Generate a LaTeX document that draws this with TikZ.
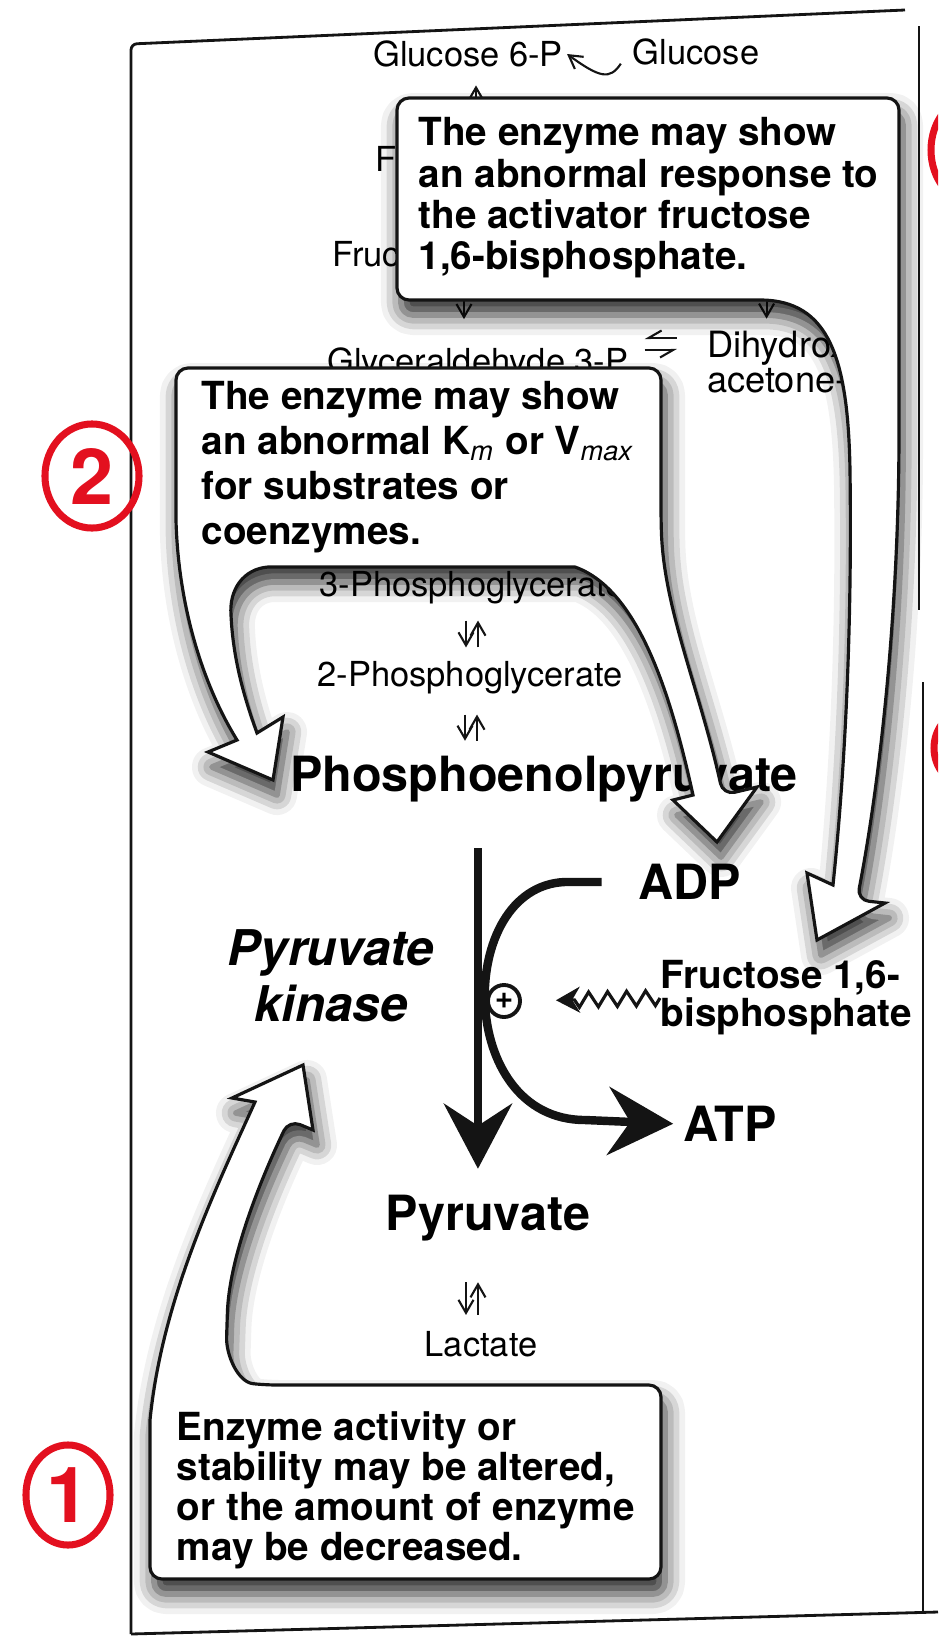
\documentclass[tikz,border=0pt]{standalone}
\usepackage{fontspec}
\setmainfont{TeX Gyre Heros}
\usetikzlibrary{arrows.meta, positioning, calc, shapes.geometric, shadows.blur, decorations.pathmorphing}
\definecolor{InkBlack}{HTML}{141414}
\definecolor{PenRed}{HTML}{E3101F}
\tikzset{
  metab/.style={inner sep=1pt, font=\fontsize{9.8}{10}\selectfont},
  bigmetab/.style={inner sep=1pt, font=\fontsize{13.8}{15}\selectfont\bfseries},
  notebox/.style={draw=InkBlack, line width=0.9pt, fill=white, rounded corners=0.12cm, blur shadow={shadow xshift=0.04cm, shadow yshift=-0.15cm, shadow blur radius=0.2cm, shadow opacity=85}},
  notetext/.style={anchor=north west, inner sep=0pt, align=left},
  revarrow/.style={-{Straight Barb[length=1.3mm, width=1.5mm]}, line width=0.6pt, draw=InkBlack},
  harparrow/.style={-{Straight Barb[harpoon, swap, length=1.3mm, width=1.5mm]}, line width=0.6pt, draw=InkBlack},
  mainarrow/.style={-{Stealth[length=6.5mm, width=6.8mm, inset=2.2mm]}, line width=2.4pt, draw=InkBlack},
  wavyarrow/.style={-{Stealth[length=2.4mm, width=2.6mm]}, line width=0.9pt, draw=InkBlack, decorate, decoration={zigzag, amplitude=0.075cm, segment length=0.19cm, post length=0.46cm}},
  penmark/.style={ellipse, draw=PenRed, line width=2pt, text=PenRed, inner sep=0pt, font=\fontsize{22}{22}\selectfont\bfseries},
  frameline/.style={draw=InkBlack, line width=0.8pt}
}

\begin{document}
\begin{tikzpicture}[x=0.01cm, y=-0.01cm]
\useasboundingbox (0,0) rectangle (938,1639);

\draw[frameline, rounded corners=0.06cm] (131,1634) -- (131,44) -- (905,10);
\draw[frameline] (919,26) -- (919,610);
\draw[frameline] (923,682) -- (923,1614);
\draw[frameline] (131,1634) -- (938,1612);

\node[metab] (glc6p) at (468,54) {Glucose 6-P};
\node[metab] (glc) at (696,52) {Glucose};
\node[metab, anchor=west] (fru6p) at (371,159) {F};
\node[metab, anchor=west] (fru16bp) at (328,254) {Fruc};
\node[metab] (gap) at (478,364) {Glyceraldehyde 3-P};
\node[metab, anchor=west, align=left, font=\fontsize{10.3}{10}\selectfont] (dhap) at (703,362) {Dihydroxy-\\acetone-P};
\node[metab] (pg3) at (472,588) {3-Phosphoglycerate};
\node[metab] (pg2) at (470,678) {2-Phosphoglycerate};
\node[bigmetab] (pep) at (544,779) {Phosphoenolpyruvate};
\node[bigmetab] (pyr) at (488,1218) {Pyruvate};
\node[metab] (lac) at (481,1344) {Lactate};
\node[bigmetab] (adp) at (690,882) {ADP};
\node[bigmetab] (atp) at (730,1124) {ATP};
\node[align=center, inner sep=1pt, font=\fontsize{14}{15.9}\selectfont\bfseries\itshape] (pk) at (331,976) {Pyruvate\\kinase};
\node[circle, draw=InkBlack, line width=1.1pt, minimum size=0.32cm, inner sep=0pt, font=\fontsize{9}{9}\selectfont\bfseries] (act) at (504,1001) {+};
\node[anchor=west, align=left, inner sep=0pt, font=\fontsize{11}{10.8}\selectfont\bfseries] (fbp) at (660,998) {Fructose 1,6-\\bisphosphate};

\draw[revarrow, shorten <=0.14cm] (glc.west) .. controls (610,80) and (600,78) .. (glc6p.east);
\draw[revarrow, shorten >=0.14cm] ([xshift=0.08cm]glc6p.south |- fru6p.north) -- ([xshift=0.08cm]glc6p.south);
\draw[revarrow, shorten <=0.06cm, shorten >=0.24cm] (fru16bp.east) -| ([xshift=-0.14cm]gap.north);
\draw[revarrow, shorten <=0.06cm, shorten >=0.08cm] (fru16bp.east) -| ([xshift=-0.26cm]dhap.north);
\draw[harparrow, shorten <=0.26cm, shorten >=0.12cm] ([yshift=0.26cm]gap.east -| dhap.west) -- ([yshift=0.26cm]gap.east);
\draw[harparrow, shorten <=0.12cm, shorten >=0.26cm] ([yshift=0.14cm]gap.east) -- ([yshift=0.14cm]gap.east -| dhap.west);
\draw[revarrow, shorten <=0.12cm, shorten >=0.1cm] ([xshift=-0.06cm]pg3.south) -- ([xshift=-0.06cm]pg3.south |- pg2.north);
\draw[revarrow, shorten <=0.1cm, shorten >=0.12cm] ([xshift=0.06cm]pg3.south |- pg2.north) -- ([xshift=0.06cm]pg3.south);
\draw[revarrow, shorten <=0.16cm, shorten >=0.11cm] ([xshift=-0.05cm]pg2.south) -- ([xshift=-0.05cm]pg2.south |- pep.north);
\draw[revarrow, shorten <=0.11cm, shorten >=0.16cm] ([xshift=0.07cm]pg2.south |- pep.north) -- ([xshift=0.07cm]pg2.south);
\draw[revarrow, shorten <=0.37cm, shorten >=0.12cm] ([xshift=-0.22cm]pyr.south) -- ([xshift=-0.22cm]pyr.south |- lac.north);
\draw[revarrow, shorten <=0.12cm, shorten >=0.37cm] ([xshift=-0.1cm]pyr.south |- lac.north) -- ([xshift=-0.1cm]pyr.south);

\draw[mainarrow, shorten <=0.42cm, shorten >=0.22cm] ([xshift=-0.66cm]pep.south) -- ([xshift=-0.66cm]pep.south |- pyr.north);
\draw[mainarrow, shorten <=0.33cm, shorten >=0.06cm] (adp.west) -- ++(-70,0) .. controls (455,887) and (455,1120) .. (585,1120) -- (atp.west);
\draw[wavyarrow, shorten >=0.34cm] (fbp.west) -- (act.east);

\draw[notebox] (397,200) -- (397,98) -- (899,98) -- (899,420)
  .. controls (899,600) and (882,770) .. (857,900) [sharp corners]
  -- (885,903) -- (817,940) -- (807,873) -- (833,885)
  .. controls (846,760) and (852,620) .. (850,470)
  .. controls (848,360) and (830,300) .. (760,300) [rounded corners=0.12cm] -- (397,300) -- cycle;
\node[notetext, font=\fontsize{11}{11.7}\selectfont\bfseries] (note3) at (418,117) {The enzyme may show\\an abnormal response to\\the activator fructose\\1,6-bisphosphate.};

\draw[notebox] (176,450) -- (176,368) -- (661,368) -- (661,520)
  .. controls (664,610) and (700,690) .. (723,795) [sharp corners]
  -- (757,787) -- (717,842) -- (673,800) -- (693,795)
  .. controls (672,700) and (640,590) .. (575,567) -- (268,567)
  .. controls (243,569) and (229,590) .. (231,615)
  .. controls (233,660) and (245,700) .. (257,733)
  -- (283,717) -- (273,780) -- (208,752) -- (237,740)
  .. controls (200,680) and (178,600) .. (176,520) -- cycle;
\node[notetext, font=\fontsize{11}{12.8}\selectfont\bfseries] (note2) at (201,381) {The enzyme may show\\an abnormal K\textsubscript{\mdseries\itshape m} or V\textsubscript{\mdseries\itshape max}\\for substrates or\\coenzymes.};

\draw[notebox] (150,1480) -- (150,1579) -- (661,1579) -- (661,1385) -- (265,1385)
  .. controls (238,1382) and (226,1355) .. (227,1325)
  .. controls (229,1260) and (258,1185) .. (289,1120) [sharp corners]
  -- (313,1130) -- (303,1065) -- (232,1098) -- (255,1102)
  .. controls (215,1190) and (162,1300) .. (150,1420) -- cycle;
\node[notetext, font=\fontsize{11}{11.4}\selectfont\bfseries] (note1) at (176,1411) {Enzyme activity or\\stability may be altered,\\or the amount of enzyme\\may be decreased.};

\node[penmark, minimum width=0.94cm, minimum height=1.04cm] (mark2) at (92,476) {2};
\node[penmark, minimum width=0.84cm, minimum height=1.0cm] (mark1) at (68,1495) {1};
\begin{scope}
\clip (0,0) rectangle (938,1639);
\draw[draw=PenRed, line width=2pt] (972,150) ellipse [x radius=41, y radius=52];
\draw[draw=PenRed, line width=2pt] (965,748) ellipse [x radius=31, y radius=36];
\end{scope}
\end{tikzpicture}
\end{document}
